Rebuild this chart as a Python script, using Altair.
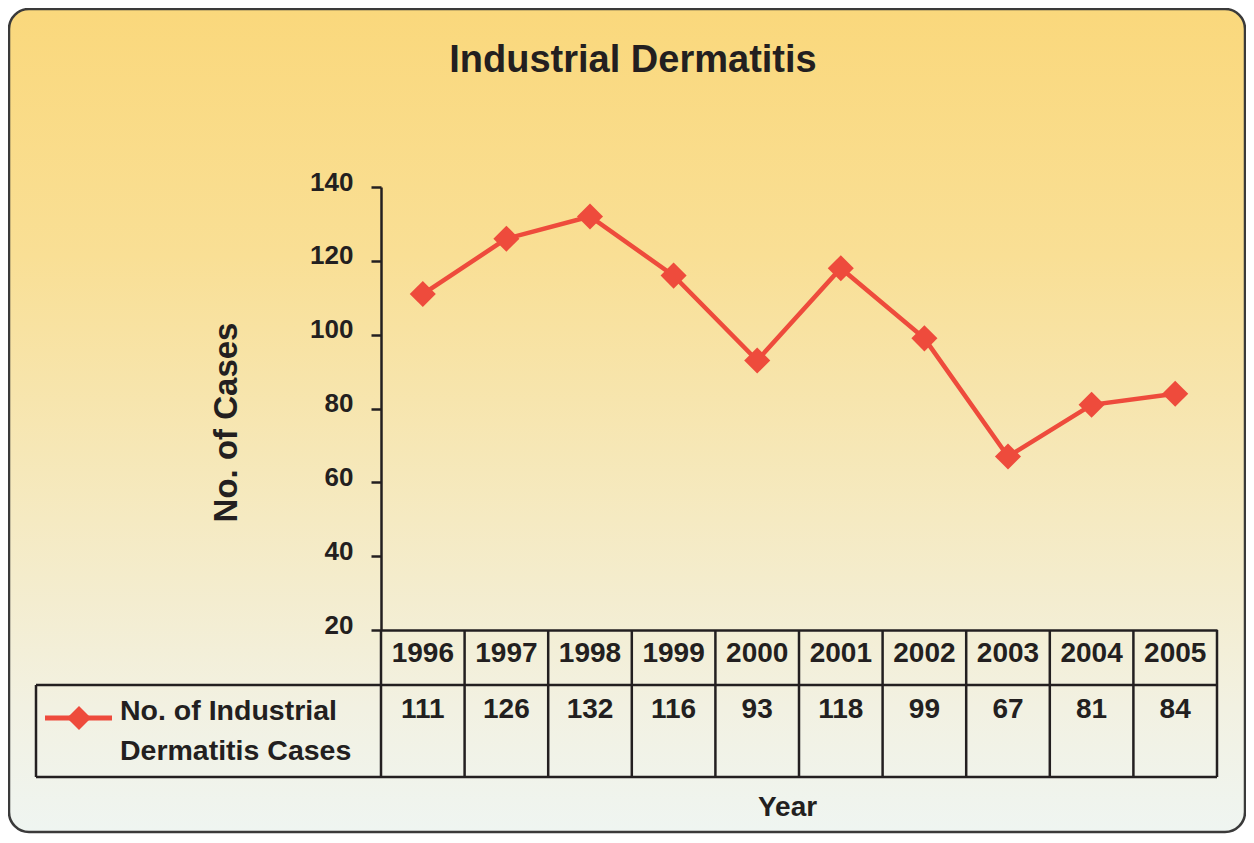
import altair as alt
import pandas as pd

years = ["1996", "1997", "1998", "1999", "2000", "2001", "2002", "2003", "2004", "2005"]
cases = [111, 126, 132, 116, 93, 118, 99, 67, 81, 84]
y_ticks = [20, 40, 60, 80, 100, 120, 140]
title_text = "Industrial Dermatitis"
y_title = "No. of Cases"
x_title = "Year"
legend_lines = ["No. of Industrial", "Dermatitis Cases"]

df = pd.DataFrame({"year": years, "cases": cases})
one = pd.DataFrame({"k": [0]})

INK = "#231F20"
RED = "#EE4B3C"
FONT = "Liberation Sans"
LW = 2.5

xscale = alt.Scale(type="band", paddingInner=0, paddingOuter=0)
yscale = alt.Scale(domain=[20, 140], nice=False, zero=False)
xaxis = alt.Axis(labels=False, ticks=False, grid=False, domain=True, zindex=1,
                 domainColor=INK, domainWidth=LW, title=x_title,
                 titleFontSize=28, titleFontWeight="bold", titleColor=INK,
                 titleX=406, titleY=185, titleBaseline="alphabetic",
                 titleAlign="center", titleFont=FONT)
yaxis = alt.Axis(values=y_ticks, grid=False, domainColor=INK, domainWidth=LW, zindex=1,
                 tickColor=INK, tickWidth=LW, tickSize=10, labelPadding=18,
                 labelFontSize=26, labelFontWeight="bold", labelColor=INK,
                 labelFont=FONT, labelOffset=-5, title=y_title,
                 titleFontSize=33, titleFontWeight="bold", titleColor=INK,
                 titleFont=FONT, titleAngle=-90, titleX=-145, titleY=235,
                 titleBaseline="alphabetic", titleAlign="center")

X = alt.X("year:O", scale=xscale, axis=xaxis)
Y = alt.Y("cases:Q", scale=yscale, axis=yaxis)

grad = alt.Gradient(
    gradient="linear", x1=0, y1=0, x2=0, y2=1,
    stops=[
        alt.GradientStop(color="#FAD87C", offset=0),
        alt.GradientStop(color="#F9DF95", offset=0.3),
        alt.GradientStop(color="#F5EAC2", offset=0.62),
        alt.GradientStop(color="#F2F1E2", offset=0.85),
        alt.GradientStop(color="#EFF5F1", offset=1),
    ],
)

bg = alt.Chart(one).mark_rect(cornerRadius=20, stroke="#3a3a3a", strokeWidth=2.5, fill=grad).encode(
    x=alt.value(-372), x2=alt.value(864), y=alt.value(-178), y2=alt.value(645))

h_mid = alt.Chart(one).mark_rule(color=INK, strokeWidth=LW).encode(
    x=alt.value(-345), x2=alt.value(836), y=alt.value(498))
h_bot = alt.Chart(one).mark_rule(color=INK, strokeWidth=LW).encode(
    x=alt.value(-345), x2=alt.value(836), y=alt.value(590))
v_left = alt.Chart(one).mark_rule(color=INK, strokeWidth=LW).encode(
    x=alt.value(-345), y=alt.value(498), y2=alt.value(590))
v_right = alt.Chart(one).mark_rule(color=INK, strokeWidth=LW).encode(
    x=alt.value(836), y=alt.value(443), y2=alt.value(590))

base = alt.Chart(df)
v_cols = base.mark_rule(color=INK, strokeWidth=LW).encode(
    x=alt.X("year:O", scale=xscale, axis=xaxis, bandPosition=0),
    y=alt.value(443), y2=alt.value(590))

line = base.mark_line(color=RED, strokeWidth=4.5).encode(x=X, y=Y)
pts = base.mark_point(shape="diamond", filled=True, size=680, color=RED, opacity=1).encode(x=X, y=Y)

year_txt = base.mark_text(fontSize=28, fontWeight="bold", color=INK, baseline="alphabetic", font=FONT).encode(
    x=X, y=alt.value(475), text="year:N")
val_txt = base.mark_text(fontSize=28, fontWeight="bold", color=INK, baseline="alphabetic", font=FONT).encode(
    x=X, y=alt.value(531), text="cases:Q")

leg_line = alt.Chart(one).mark_rule(color=RED, strokeWidth=5).encode(
    x=alt.value(-336), x2=alt.value(-269), y=alt.value(531))
leg_pt = alt.Chart(one).mark_point(shape="diamond", filled=True, size=580, color=RED, opacity=1).encode(
    x=alt.value(-302), y=alt.value(531))
leg_t1 = alt.Chart(one).mark_text(text=legend_lines[0], fontSize=28.5, fontWeight="bold", color=INK,
                                  align="left", baseline="alphabetic", font=FONT).encode(
    x=alt.value(-261), y=alt.value(533))
leg_t2 = alt.Chart(one).mark_text(text=legend_lines[1], fontSize=28.5, fontWeight="bold", color=INK,
                                  align="left", baseline="alphabetic", font=FONT).encode(
    x=alt.value(-261), y=alt.value(573))

title = alt.Chart(one).mark_text(text=title_text, fontSize=38, fontWeight="bold", color=INK,
                                 align="center", baseline="alphabetic", font=FONT).encode(
    x=alt.value(252), y=alt.value(-115))

chart = alt.layer(
    bg, h_mid, h_bot, v_left, v_right, v_cols, line, pts, year_txt, val_txt,
    leg_line, leg_pt, leg_t1, leg_t2, title,
).properties(
    width=836, height=443,
    padding={"left": 373, "top": 179, "right": 29, "bottom": 204},
    autosize="none",
).configure_view(stroke=None).configure(font=FONT)

chart.save("out.html", embed_options={"renderer": "svg", "actions": False})
